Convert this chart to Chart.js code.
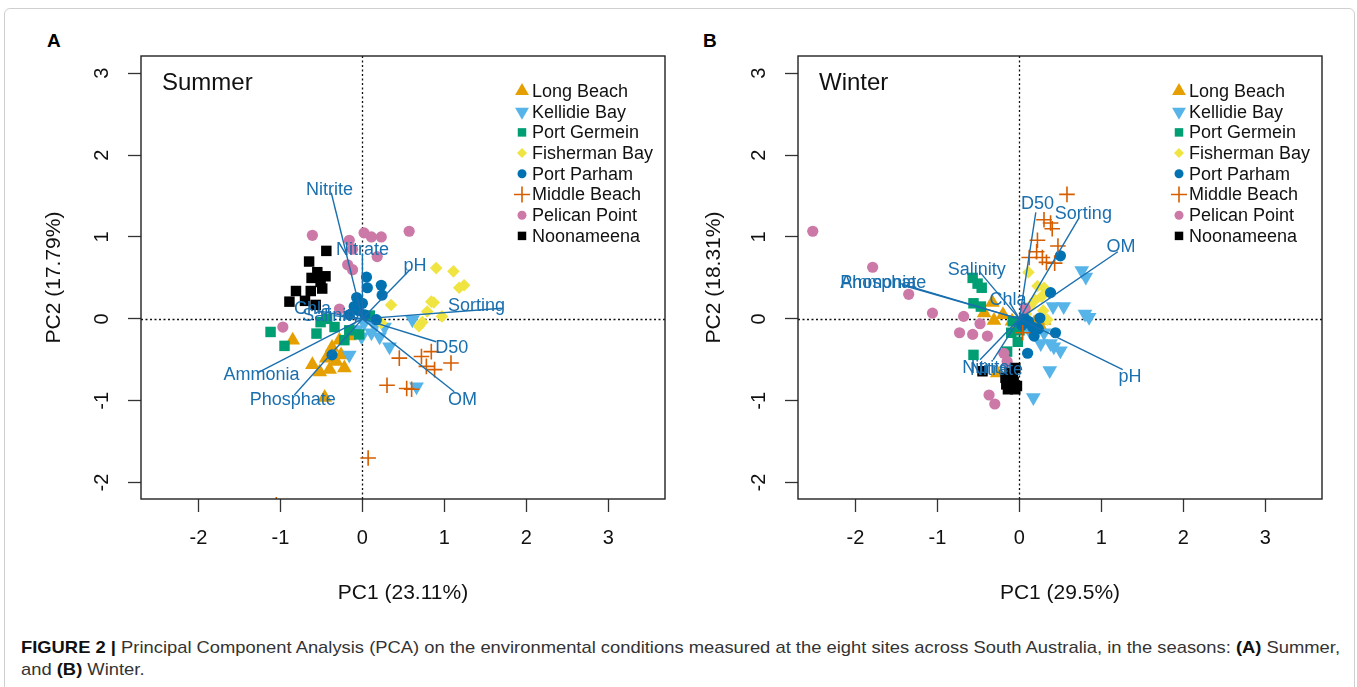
<!DOCTYPE html>
<html>
<head>
<meta charset="utf-8">
<script src="https://cdn.jsdelivr.net/npm/chart.js@4.4.0/dist/chart.umd.min.js"></script>
<style>
body{margin:0;background:#fff;width:1357px;height:687px;overflow:hidden;position:relative;font-family:"Liberation Sans",Arial,sans-serif}
.frame{position:absolute;left:4px;top:8px;width:1349px;height:700px;border:1px solid #cfcfcf;border-radius:6px}
canvas{position:absolute}
#cA{left:20px;top:20px}
#cB{left:680px;top:20px}
.tag{position:absolute;font-weight:bold;font-size:19px;line-height:19px;color:#000}
#cap{position:absolute;left:21px;top:637px;font-size:17px;line-height:22px;color:#333;white-space:nowrap;font-family:"Liberation Sans Narrow","Liberation Sans",Arial,sans-serif;transform-origin:0 0}
#cap b{color:#111}
</style>
</head>
<body>
<div class="frame"></div>
<div class="tag" style="left:47px;top:31px">A</div>
<div class="tag" style="left:703px;top:31px">B</div>
<canvas id="cA" width="660" height="600"></canvas>
<canvas id="cB" width="660" height="600"></canvas>
<div id="cap"><span id="l1"><b>FIGURE 2 |</b> Principal Component Analysis (PCA) on the environmental conditions measured at the eight sites across South Australia, in the seasons: <b>(A)</b> Summer,</span><br>and <b>(B)</b> Winter.</div>
<script>
'use strict';
// sites and axis ticks
const sites = ['Long Beach', 'Kellidie Bay', 'Port Germein', 'Fisherman Bay', 'Port Parham', 'Middle Beach', 'Pelican Point', 'Noonameena'];
const xTicks = [-2, -1, 0, 1, 2, 3];
const yTicks = [-2, -1, 0, 1, 2, 3];

// summer scores [PC1, PC2]
const sumLongBeach = [[-0.85,-0.26],[-0.37,-0.35],[-0.28,-0.26],[-0.44,-0.48],[-0.32,-0.52],[-0.22,-0.60],[-0.52,-0.65],[-0.40,-0.62],[-0.26,-0.44],[-0.61,-0.56],[-0.46,-0.96],[-0.16,-0.21]];
const sumKellidie = [[0.61,-0.01],[0.33,-0.34],[0.66,-0.83],[-0.16,-0.44],[-0.01,-0.22],[0.11,-0.17],[0.27,-0.10],[0.21,-0.22],[-0.07,-0.13],[0.02,-0.05],[0.15,-0.08]];
const sumGermein = [[-1.12,-0.16],[-0.95,-0.33],[-0.56,-0.18],[-0.51,-0.04],[-0.34,-0.10],[-0.22,-0.26],[-0.16,-0.14],[0.09,0.04],[-0.04,-0.19],[-0.43,0.00]];
const sumFisherman = [[0.90,0.62],[1.11,0.58],[1.24,0.41],[1.18,0.38],[0.35,0.17],[0.84,0.21],[0.79,0.09],[0.97,0.03],[0.73,-0.04],[0.69,-0.09],[0.23,-0.05],[0.87,0.20]];
const sumParham = [[0.05,0.51],[0.06,0.38],[0.23,0.41],[0.24,0.29],[-0.07,0.26],[0.00,0.19],[-0.10,0.15],[-0.16,0.05],[0.17,-0.01],[-0.37,-0.44],[-0.05,0.10],[0.03,0.05]];
const sumMiddle = [[0.45,-0.48],[0.72,-0.46],[0.84,-0.40],[0.78,-0.58],[1.08,-0.54],[0.88,-0.62],[0.30,-0.81],[0.54,-0.85],[0.60,-0.86],[0.07,-1.70],[-1.05,-2.27]];
const sumPelican = [[-0.61,1.02],[-0.16,0.96],[0.02,1.05],[0.11,1.00],[0.23,1.00],[0.57,1.07],[-0.12,0.85],[0.18,0.76],[-0.18,0.66],[-0.12,0.60],[-0.97,-0.10],[-0.28,0.12]];
const sumNoonameena = [[-0.44,0.83],[-0.65,0.70],[-0.55,0.57],[-0.45,0.52],[-0.62,0.50],[-0.51,0.45],[-0.81,0.34],[-0.63,0.34],[-0.70,0.22],[-0.89,0.21],[-0.49,0.37],[-0.57,0.17]];

// winter scores [PC1, PC2]
const winLongBeach = [[-0.33,0.20],[-0.43,0.07],[-0.31,-0.02],[-0.09,-0.03],[0.26,-0.10],[-0.27,-0.66],[0.18,-0.05],[0.05,0.02],[-0.20,0.05],[0.30,-0.02],[-0.05,-0.12]];
const winKellidie = [[0.76,0.59],[0.81,0.51],[0.41,0.15],[0.54,0.15],[0.80,0.06],[0.85,0.02],[0.26,-0.30],[0.42,-0.34],[0.50,-0.39],[0.37,-0.63],[0.17,-0.96],[0.12,-0.14],[0.30,-0.17],[0.38,-0.30]];
const winGermein = [[-0.57,0.50],[-0.51,0.43],[-0.46,0.38],[-0.56,0.19],[-0.47,0.15],[-0.08,-0.03],[-0.10,-0.17],[-0.02,-0.28],[-0.15,-0.40],[-0.56,-0.44],[0.00,-0.14]];
const winFisherman = [[0.11,0.57],[0.30,0.38],[0.27,0.27],[0.19,0.23],[0.13,0.16],[0.08,0.06],[0.29,0.10],[0.13,-0.07],[0.34,-0.01],[0.22,0.40]];
const winParham = [[0.50,0.77],[0.38,0.32],[0.11,-0.03],[0.23,-0.12],[0.18,-0.21],[0.44,-0.17],[0.10,-0.42],[0.25,0.01],[0.06,0.01],[0.16,-0.10],[0.03,-0.08]];
const winMiddle = [[0.58,1.52],[0.30,1.21],[0.38,1.17],[0.40,1.10],[0.47,0.89],[0.22,0.96],[0.21,0.82],[0.28,0.75],[0.33,0.69],[0.43,0.68],[0.04,-0.17],[0.12,0.75]];
const winPelican = [[-2.52,1.07],[-1.79,0.63],[-1.35,0.30],[-1.06,0.07],[-0.68,0.03],[-0.48,-0.06],[-0.73,-0.17],[-0.57,-0.19],[-0.39,-0.21],[-0.37,-0.93],[-0.30,-1.04],[-0.19,-0.42],[-0.15,-0.52],[0.07,0.13]];
const winNoonameena = [[-0.45,-0.64],[-0.17,-0.72],[-0.08,-0.70],[-0.05,-0.60],[-0.16,-0.80],[-0.10,-0.82],[-0.05,-0.86],[-0.14,-0.86],[-0.07,-0.77],[-0.03,-0.82],[-0.12,-0.66]];

// loadings: line ends and label anchors
const sumVars = ['Nitrite','Nitrate','pH','Sorting','D50','OM','Ammonia','Phosphate','Chla','Salinity'];
const sumLoadEnd = [[-0.38,1.54],[0.00,0.80],[0.58,0.60],[1.70,0.13],[0.90,-0.28],[1.12,-0.89],[-1.28,-0.66],[-0.83,-0.93],[-0.55,0.10],[-0.35,0.04]];
const sumLoadLabel = [[-0.40,1.57],[0.00,0.84],[0.64,0.65],[1.39,0.16],[1.09,-0.36],[1.22,-0.99],[-1.23,-0.69],[-0.85,-0.99],[-0.61,0.12],[-0.38,0.04]];
const winVars = ['D50','Sorting','OM','pH','Salinity','Chla','Ammonia','Phosphate','Nitrite','Nitrate'];
const winLoadEnd = [[0.20,1.30],[0.72,1.22],[1.20,0.82],[1.26,-0.62],[-0.49,0.58],[-0.12,0.20],[-1.45,0.43],[-1.42,0.41],[-0.48,-0.50],[-0.32,-0.50]];
const winLoadLabel = [[0.22,1.40],[0.78,1.28],[1.24,0.88],[1.35,-0.71],[-0.52,0.60],[-0.14,0.23],[-1.72,0.44],[-1.66,0.44],[-0.41,-0.60],[-0.28,-0.62]];

const summerSets = [sumLongBeach, sumKellidie, sumGermein, sumFisherman, sumParham, sumMiddle, sumPelican, sumNoonameena];
const winterSets = [winLongBeach, winKellidie, winGermein, winFisherman, winParham, winMiddle, winPelican, winNoonameena];

const siteColors = ['#E69F00','#56B4E9','#009E73','#F0E442','#0072B2','#D55E00','#CC79A7','#000000'];
const siteMarks = [
	{style:'triangle', r:8.5, rot:0},
	{style:'triangle', r:8.5, rot:180},
	{style:'rect', r:7.4, rot:0},
	{style:'rectRot', r:6.3, rot:0},
	{style:'circle', r:5.6, rot:0},
	{style:'cross', r:7.8, rot:0},
	{style:'circle', r:5.6, rot:0},
	{style:'rect', r:7.4, rot:0}
];
const loadColor = '#1a6fae';
const FONT = '"Liberation Sans", Arial, sans-serif';

function marker(ctx, m, color, x, y, r){
	ctx.save();
	ctx.fillStyle = color; ctx.strokeStyle = color; ctx.lineWidth = 1.6;
	ctx.beginPath();
	if(m.style === 'circle'){
		ctx.arc(x, y, r, 0, Math.PI*2); ctx.fill();
	}else if(m.style === 'rect'){
		const s = r*Math.SQRT1_2; ctx.rect(x-s, y-s, 2*s, 2*s); ctx.fill();
	}else if(m.style === 'rectRot'){
		ctx.moveTo(x, y-r); ctx.lineTo(x+r, y); ctx.lineTo(x, y+r); ctx.lineTo(x-r, y); ctx.closePath(); ctx.fill();
	}else if(m.style === 'cross'){
		ctx.moveTo(x-r, y); ctx.lineTo(x+r, y); ctx.moveTo(x, y-r); ctx.lineTo(x, y+r); ctx.stroke();
	}else{
		const d = m.rot ? -1 : 1;
		ctx.moveTo(x, y-d*r); ctx.lineTo(x+r*0.866, y+d*r/2); ctx.lineTo(x-r*0.866, y+d*r/2); ctx.closePath(); ctx.fill();
	}
	ctx.restore();
}

const pcaDeco = {
	id:'pcaDeco',
	beforeDatasetsDraw(chart, args, o){
		const {ctx, chartArea:a, scales:{x, y}} = chart;
		ctx.save();
		ctx.strokeStyle = '#111'; ctx.lineWidth = 1.3; ctx.setLineDash([2, 2.5]);
		const x0 = Math.round(x.getPixelForValue(0)) + 0.5, y0 = Math.round(y.getPixelForValue(0)) + 0.5;
		ctx.beginPath(); ctx.moveTo(x0, a.top); ctx.lineTo(x0, a.bottom); ctx.stroke();
		ctx.beginPath(); ctx.moveTo(a.left, y0); ctx.lineTo(a.right, y0); ctx.stroke();
		ctx.restore();
	},
	afterDatasetsDraw(chart, args, o){
		const {ctx, chartArea:a, scales:{x, y}} = chart;
		ctx.save();
		// loading labels
		ctx.font = '18px ' + FONT; ctx.fillStyle = loadColor; ctx.textAlign = 'center'; ctx.textBaseline = 'middle';
		o.vars.forEach((v, i) => {
			ctx.fillText(v, x.getPixelForValue(o.labels[i][0]), y.getPixelForValue(o.labels[i][1]));
		});
		// box
		ctx.strokeStyle = '#222'; ctx.lineWidth = 1.4;
		ctx.strokeRect(a.left, a.top, a.right - a.left, a.bottom - a.top);
		// y tick labels, parallel to the axis
		ctx.fillStyle = '#111'; ctx.font = '20px ' + FONT;
		y.ticks.forEach(t => {
			ctx.save();
			ctx.translate(a.left - 39, y.getPixelForValue(t.value));
			ctx.rotate(-Math.PI/2);
			ctx.fillText(String(t.value), 0, 0);
			ctx.restore();
		});
		// panel title
		ctx.textAlign = 'left'; ctx.font = '24px ' + FONT;
		ctx.fillText(o.title, a.left + 21, a.top + 27);
		// legend
		ctx.font = '18px ' + FONT;
		sites.forEach((s, i) => {
			const ly = a.top + 35 + i*20.7, lx = a.right - 143;
			marker(ctx, siteMarks[i], siteColors[i], lx, ly, siteMarks[i].style === 'circle' ? 4.5 : siteMarks[i].style === 'rect' ? 6 : siteMarks[i].style === 'rectRot' ? 5 : 8);
			ctx.fillStyle = '#111';
			ctx.fillText(s, lx + 10, ly + 1);
		});
		ctx.restore();
	}
};

function buildDatasets(sets, ends){
	const ds = sets.map((pts, i) => ({
		type:'scatter',
		label:sites[i],
		data:pts.map(p => ({x:p[0], y:p[1]})),
		pointStyle:siteMarks[i].style,
		pointRotation:siteMarks[i].rot,
		pointRadius:siteMarks[i].r,
		pointBackgroundColor:siteColors[i],
		pointBorderColor:siteColors[i],
		pointBorderWidth:siteMarks[i].style === 'cross' ? 1.6 : 0,
		order:10 - i,
		clip:0
	}));
	ends.forEach(e => ds.push({
		type:'scatter',
		showLine:true,
		data:[{x:0, y:0}, {x:e[0], y:e[1]}],
		borderColor:loadColor,
		borderWidth:1.4,
		pointRadius:0,
		order:0,
		clip:0
	}));
	return ds;
}

function pcaChart(id, sets, ends, vars, labels, title, xTitle, yTitle, yw, padR){
	return new Chart(document.getElementById(id), {
		type:'scatter',
		data:{datasets:buildDatasets(sets, ends)},
		options:{
			responsive:false, animation:false, events:[], devicePixelRatio:1,
			layout:{padding:{top:36, right:padR, left:0, bottom:0}},
			plugins:{
				legend:{display:false}, tooltip:{enabled:false},
				pcaDeco:{vars:vars, labels:labels, title:title}
			},
			scales:{
				x:{
					type:'linear', position:'bottom', min:-2.7, max:3.69,
					afterBuildTicks:s => { s.ticks = xTicks.map(v => ({value:v})); },
					afterFit:s => { s.height = 121; },
					grid:{drawOnChartArea:false, drawTicks:true, tickLength:13, tickColor:'#333', tickWidth:1.3},
					border:{display:false},
					ticks:{font:{size:20, family:FONT}, color:'#111', padding:14, maxRotation:0, callback:v => String(v)},
					title:{display:true, text:xTitle, font:{size:21, family:FONT}, color:'#111', padding:{top:0, bottom:14}}
				},
				y:{
					type:'linear', position:'left', min:-2.2, max:3.21,
					afterBuildTicks:s => { s.ticks = yTicks.map(v => ({value:v})); },
					afterFit:s => { s.width = yw; },
					grid:{drawOnChartArea:false, drawTicks:true, tickLength:13, tickColor:'#333', tickWidth:1.3},
					border:{display:false},
					ticks:{display:false},
					title:{display:true, text:yTitle, font:{size:21, family:FONT}, color:'#111', padding:{top:22, bottom:0}}
				}
			}
		},
		plugins:[pcaDeco]
	});
}

pcaChart('cA', summerSets, sumLoadEnd, sumVars, sumLoadLabel, 'Summer', 'PC1 (23.11%)', 'PC2 (17.79%)', 121, 15);
pcaChart('cB', winterSets, winLoadEnd, winVars, winLoadLabel, 'Winter', 'PC1 (29.5%)', 'PC2 (18.31%)', 118, 18);

// fit the caption to the width of the page text block
const cap = document.getElementById('cap');
const w1 = document.getElementById('l1').getBoundingClientRect().width;
cap.style.transform = 'scaleX(' + (1319 / w1) + ')';
</script>
</body>
</html>
